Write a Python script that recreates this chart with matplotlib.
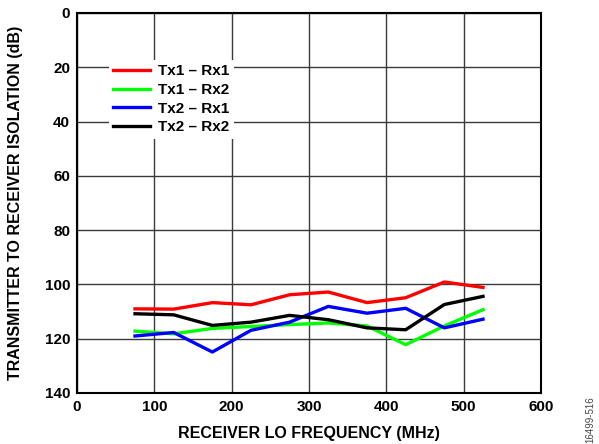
import matplotlib
matplotlib.use("Agg")
import matplotlib.pyplot as plt

# Data
freq_mhz = [75, 125, 175, 225, 275, 325, 375, 425, 475, 525]
tx1_rx1 = [109.0, 109.1, 106.7, 107.5, 103.8, 102.8, 106.7, 104.9, 99.1, 101.1]
tx1_rx2 = [117.2, 118.2, 116.2, 115.5, 114.8, 114.2, 115.3, 122.2, 115.3, 109.3]
tx2_rx1 = [119.0, 117.7, 124.9, 116.9, 113.9, 108.1, 110.6, 108.8, 116.0, 112.8]
tx2_rx2 = [110.8, 111.2, 115.1, 113.9, 111.4, 113.0, 116.0, 116.7, 107.4, 104.4]

series = [
    ("Tx1 – Rx1", tx1_rx1, "#ff0000"),
    ("Tx1 – Rx2", tx1_rx2, "#00ff00"),
    ("Tx2 – Rx1", tx2_rx1, "#0000ff"),
    ("Tx2 – Rx2", tx2_rx2, "#000000"),
]

plt.rcParams["font.family"] = ["Liberation Sans", "DejaVu Sans"]
plt.rcParams["font.weight"] = "bold"

fig = plt.figure(figsize=(5.99, 4.44), dpi=100)
ax = fig.add_axes([77 / 599, 1 - 393 / 444, 464 / 599, 380 / 444])

for label, vals, color in series:
    ax.plot(freq_mhz, vals, color=color, linewidth=2.4, label=label, zorder=3)

ax.set_xlim(0, 600)
ax.set_ylim(140, 0)
ax.set_xticks(range(0, 601, 100))
ax.set_yticks(range(0, 141, 20))
ax.grid(True, color="#3a3a3a", linewidth=1.0)
ax.tick_params(length=0, labelsize=11, pad=5)
for t in ax.get_xticklabels() + ax.get_yticklabels():
    t.set_fontweight("bold")
for s in ax.spines.values():
    s.set_linewidth(1.5)

ax.set_xlabel("RECEIVER LO FREQUENCY (MHz)", fontsize=11.5, fontweight="bold")
ax.set_ylabel("TRANSMITTER TO RECEIVER ISOLATION (dB)", fontsize=11.5, fontweight="bold")
ax.xaxis.set_label_coords(0.5, -(433 - 393) / 380, transform=ax.transAxes)
ax.yaxis.set_label_coords(-(77 - 15) / 464, 0.5, transform=ax.transAxes)
ax.xaxis.label.set_va("center")
ax.yaxis.label.set_va("center")

leg = ax.legend(loc="upper left", bbox_to_anchor=(0.052, 0.897), frameon=True,
                fancybox=False, edgecolor="none", facecolor="white", framealpha=1,
                fontsize=11, handlelength=2.4, handletextpad=0.55, labelspacing=0.3,
                borderpad=0.3)
for t in leg.get_texts():
    t.set_fontweight("bold")

fig.text(590 / 599, 1 - 420 / 444, "16499-516", rotation=90, fontsize=7,
         color="#444444", ha="center", va="center", fontweight="normal")

fig.savefig("out.png", dpi=100)
